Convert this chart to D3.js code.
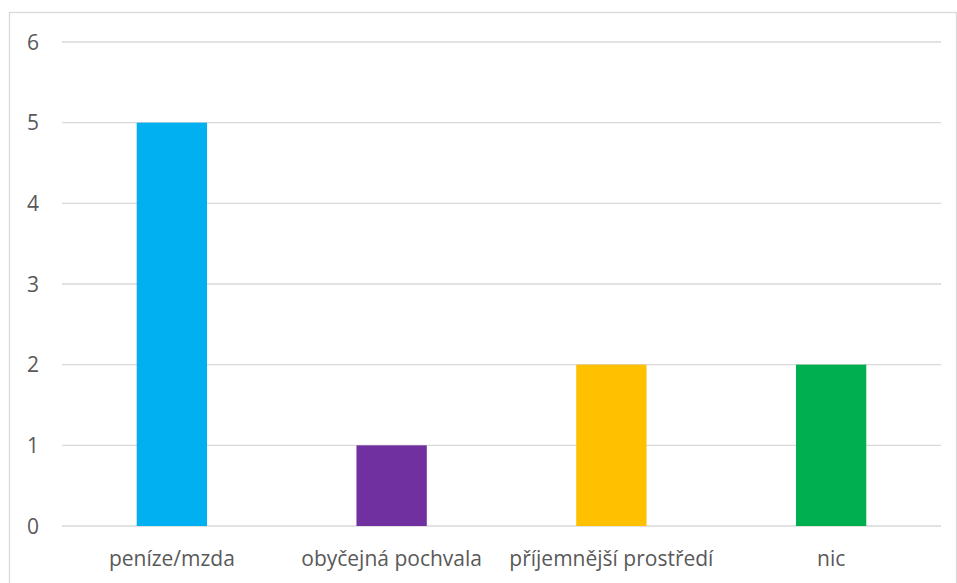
<!DOCTYPE html>
<html>
<head>
<meta charset="utf-8">
<script src="https://cdn.jsdelivr.net/npm/d3@7"></script>
<style>
  html, body { margin: 0; padding: 0; background: #fff; }
  svg { display: block; }
  text { font-family: "Open Sans", "Noto Sans", sans-serif; fill: #595959; }
</style>
</head>
<body>
<svg id="chart" width="957" height="583"></svg>
<script>
const categories = ["peníze/mzda", "obyčejná pochvala", "příjemnější prostředí", "nic"];
const values = [5, 1, 2, 2];
const colors = ["#00b0f0", "#7030a0", "#ffc000", "#00b050"];
const yTicks = [0, 1, 2, 3, 4, 5, 6];

const svg = d3.select("#chart");
const W = 957, H = 583;

// outer frame of the chart area
svg.append("rect")
  .attr("x", 9.5).attr("y", 12.5)
  .attr("width", W - 10).attr("height", H)
  .attr("fill", "#fff").attr("stroke", "#d9d9d9").attr("stroke-width", 1.3);

const plotLeft = 62, plotRight = 941, plotTop = 42, plotBottom = 526;

const x = d3.scaleBand().domain(categories).range([plotLeft, plotRight]).paddingInner(0.68).paddingOuter(0.34);
const y = d3.scaleLinear().domain([0, 6]).range([plotBottom, plotTop]);

// horizontal gridlines
svg.append("g").selectAll("line").data(yTicks).join("line")
  .attr("x1", plotLeft).attr("x2", plotRight)
  .attr("y1", d => y(d)).attr("y2", d => y(d))
  .attr("stroke", "#d9d9d9").attr("stroke-width", 1.3);

// y tick labels
svg.append("g").selectAll("text").data(yTicks).join("text")
  .attr("x", 33).attr("y", d => y(d))
  .attr("dy", "0.36em").attr("text-anchor", "middle")
  .attr("font-size", 21)
  .text(d => d);

// bars
svg.append("g").selectAll("rect").data(values).join("rect")
  .attr("x", (d, i) => x(categories[i]))
  .attr("width", x.bandwidth())
  .attr("y", d => y(d))
  .attr("height", d => y(0) - y(d))
  .attr("fill", (d, i) => colors[i]);

// category labels
svg.append("g").selectAll("text").data(categories).join("text")
  .attr("x", d => x(d) + x.bandwidth() / 2)
  .attr("y", 566)
  .attr("text-anchor", "middle")
  .attr("font-size", 21)
  .text(d => d);
</script>
</body>
</html>
